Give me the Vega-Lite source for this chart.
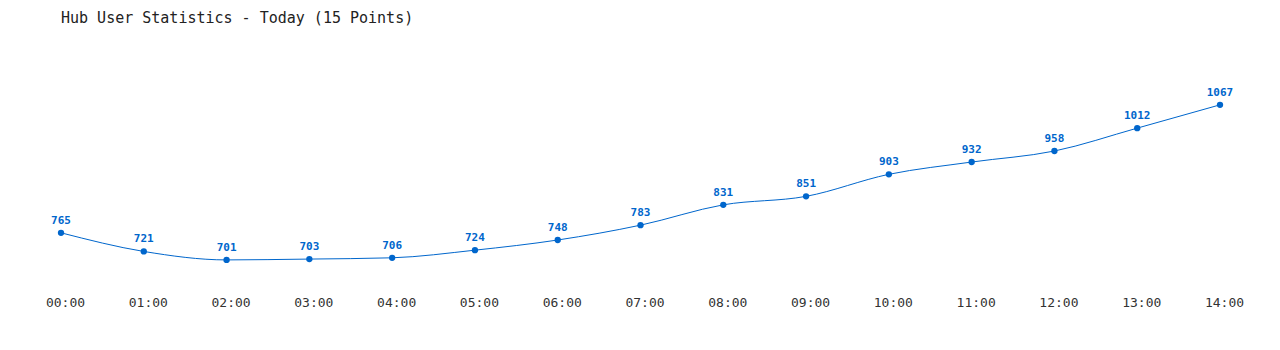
{
  "$schema": "https://vega.github.io/schema/vega-lite/v6.json",
  "autosize": "none",
  "width": 1159,
  "height": 250,
  "padding": {"left": 61, "top": 40, "right": 60, "bottom": 60},
  "background": "white",
  "config": {"view": {"stroke": null}},
  "title": {
    "text": "Hub User Statistics - Today (15 Points)",
    "anchor": "start",
    "frame": "group",
    "font": "DejaVu Sans Mono",
    "fontSize": 15,
    "fontWeight": "normal",
    "color": "#222222",
    "offset": 14
  },
  "data": {
    "values": [
      {"time": "00:00", "users": 765},
      {"time": "01:00", "users": 721},
      {"time": "02:00", "users": 701},
      {"time": "03:00", "users": 703},
      {"time": "04:00", "users": 706},
      {"time": "05:00", "users": 724},
      {"time": "06:00", "users": 748},
      {"time": "07:00", "users": 783},
      {"time": "08:00", "users": 831},
      {"time": "09:00", "users": 851},
      {"time": "10:00", "users": 903},
      {"time": "11:00", "users": 932},
      {"time": "12:00", "users": 958},
      {"time": "13:00", "users": 1012},
      {"time": "14:00", "users": 1067}
    ]
  },
  "encoding": {
    "x": {
      "field": "time",
      "type": "ordinal",
      "sort": null,
      "scale": {"type": "point", "padding": 0},
      "axis": {
        "title": null,
        "labelAngle": 0,
        "domain": false,
        "ticks": false,
        "grid": false,
        "labelFont": "DejaVu Sans Mono",
        "labelFontSize": 13,
        "labelColor": "#333333",
        "labelPadding": 6,
        "labelOffset": 4,
        "labelFlush": false,
        "labelOverlap": false
      }
    },
    "y": {
      "field": "users",
      "type": "quantitative",
      "scale": {"domain": [630, 1220], "zero": false, "nice": false},
      "axis": null
    }
  },
  "layer": [
    {"mark": {"type": "line", "interpolate": "monotone", "color": "#0066cc", "strokeWidth": 1}},
    {"mark": {"type": "point", "filled": true, "color": "#0066cc", "size": 40, "opacity": 1}},
    {
      "mark": {"type": "text", "dy": -12, "font": "DejaVu Sans Mono", "fontSize": 11, "fontWeight": "bold", "color": "#0066cc"},
      "encoding": {"text": {"field": "users", "type": "quantitative"}}
    }
  ]
}
